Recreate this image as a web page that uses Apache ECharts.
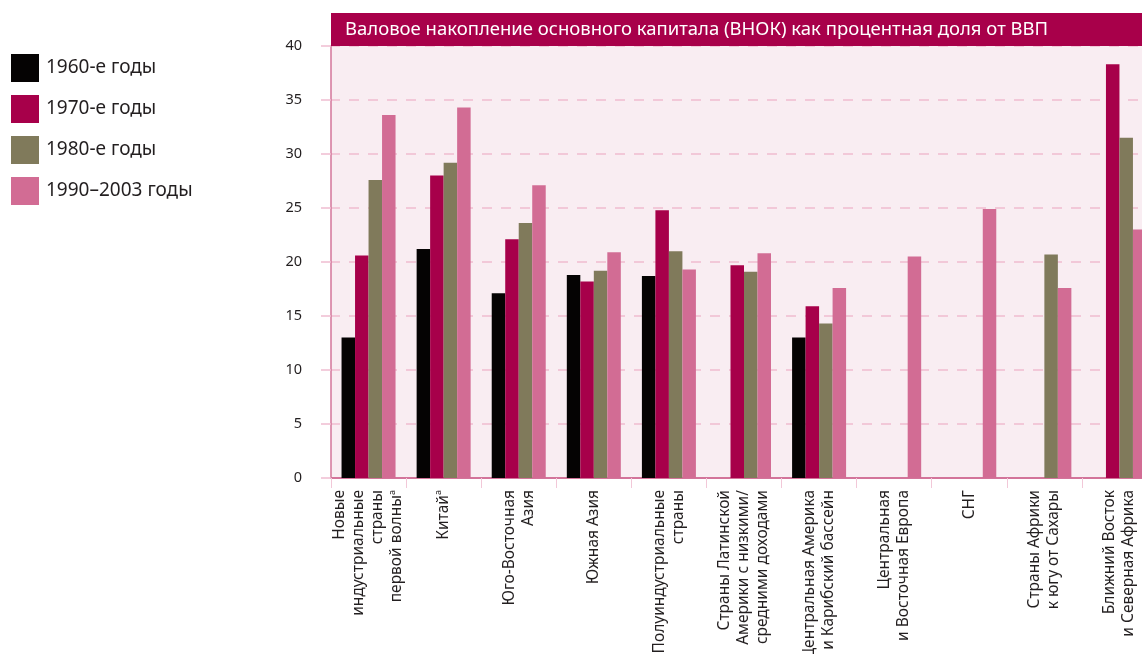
<!DOCTYPE html>
<html>
<head>
<meta charset="utf-8">
<script src="https://cdn.jsdelivr.net/npm/echarts@6/dist/echarts.min.js"></script>
<style>
html,body{margin:0;padding:0;background:#fff;}
#c{width:1142px;height:654px;}
</style>
</head>
<body>
<div id="c"></div>
<script>
const categories = [
  'Новые\nиндустриальные\nстраны\nпервой волны{sup|а}',
  'Китай{sup|а}',
  'Юго-Восточная\nАзия',
  'Южная Азия',
  'Полуиндустриальные\nстраны',
  'Страны Латинской\nАмерики с низкими/\nсредними доходами',
  'Центральная Америка\nи Карибский бассейн',
  'Центральная\nи Восточная Европа',
  'СНГ',
  'Страны Африки\nк югу от Сахары',
  'Ближний Восток\nи Северная Африка'
];
const seriesNames = ['1960-е годы', '1970-е годы', '1980-е годы', '1990–2003 годы'];
const s1960 = [13.0, 21.2, 17.1, 18.8, 18.7, null, 13.0, null, null, null, null];
const s1970 = [20.6, 28.0, 22.1, 18.2, 24.8, 19.7, 15.9, null, null, null, 38.3];
const s1980 = [27.6, 29.2, 23.6, 19.2, 21.0, 19.1, 14.3, null, null, 20.7, 31.5];
const s1990 = [33.6, 34.3, 27.1, 20.9, 19.3, 20.8, 17.6, 20.5, 24.9, 17.6, 23.0];
const yTicks = { min: 0, max: 40, interval: 5 };
const titleText = 'Валовое накопление основного капитала (ВНОК) как процентная доля от ВВП';

const colors = ['#050303', '#a7004a', '#807a5b', '#d26c94'];
const FONT = 'Noto Sans';
const chart = echarts.init(document.getElementById('c'), null, { renderer: 'canvas' });

const allData = [s1960, s1970, s1980, s1990];
const series = allData.map((d, i) => ({
  name: seriesNames[i],
  type: 'bar',
  data: d,
  barWidth: 13.5,
  barGap: '0%',
  itemStyle: { color: colors[i] },
  emphasis: { disabled: true }
}));

chart.setOption({
  animation: false,
  textStyle: { fontFamily: FONT },
  color: colors,
  legend: {
    orient: 'vertical',
    left: 11,
    top: 54,
    padding: 0,
    itemWidth: 28,
    itemHeight: 28,
    itemGap: 13,
    icon: 'rect',
    selectedMode: false,
    textStyle: { fontFamily: FONT, fontSize: 19, color: '#231f20', padding: [0, 0, 0, 2] },
    data: seriesNames
  },
  grid: {
    left: 331,
    top: 46,
    width: 826,
    height: 432,
    show: true,
    backgroundColor: '#f9edf2',
    borderWidth: 0,
    containLabel: false,
    outerBoundsMode: 'none'
  },
  xAxis: {
    type: 'category',
    data: categories,
    axisLine: { show: true, lineStyle: { color: '#d3749a', width: 2 } },
    axisTick: { show: true, length: 10, lineStyle: { color: '#f2c8d8', width: 1 } },
    axisLabel: {
      interval: 0,
      rotate: 90,
      margin: 12,
      fontFamily: FONT,
      fontSize: 15.5,
      lineHeight: 19,
      color: '#231f20',
      rich: { sup: { fontSize: 9, verticalAlign: 'top', lineHeight: 19, padding: [0, 0, 6, 0], color: '#231f20' } }
    },
    splitLine: { show: false }
  },
  yAxis: {
    type: 'value',
    min: yTicks.min,
    max: yTicks.max,
    interval: yTicks.interval,
    axisLine: { show: true, lineStyle: { color: '#d3749a', width: 1.5 } },
    axisTick: { show: true, length: 10, lineStyle: { color: '#efbcd0', width: 1.5, type: [10, 9] } },
    axisLabel: { margin: 29, fontFamily: FONT, fontSize: 14.5, color: '#231f20' },
    splitLine: { show: true, lineStyle: { color: '#efbcd0', width: 1.5, type: [10, 9], dashOffset: 1 } }
  },
  graphic: [
    {
      type: 'rect',
      x: 331, y: 13,
      shape: { x: 0, y: 0, width: 811, height: 33 },
      style: { fill: '#a8004a' },
      z: 100
    },
    {
      type: 'text',
      x: 345, y: 30,
      style: { x: 0, y: 0, text: titleText, fill: '#ffffff', fontSize: 18.5, fontFamily: FONT, verticalAlign: 'middle', align: 'left' },
      z: 101
    }
  ],
  series: series
});
</script>
</body>
</html>
